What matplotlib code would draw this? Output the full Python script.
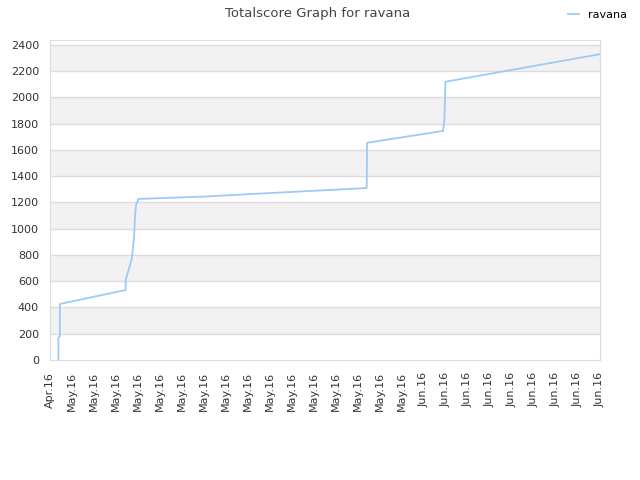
import numpy as np
import matplotlib
matplotlib.use("Agg")
import matplotlib.pyplot as plt

# days since the first tick (ticks every 2 days)
days = [0.76, 0.76, 0.9, 0.9, 6.88, 6.88, 7.45, 7.64, 7.73, 7.82, 8.03,
        14.0, 20.0, 28.79, 28.83, 35.73, 35.85, 35.95, 50.0]
scores = [0, 170, 180, 427, 533, 610, 777, 937, 1090, 1181, 1227,
          1245, 1272, 1310, 1655, 1745, 1830, 2120, 2330]

tick_days = list(range(0, 51, 2))
tick_labels = ["Apr.16"] + ["May.16"] * 16 + ["Jun.16"] * 9

line_color = "#9ecbf5"
text_color = "#444444"

fig = plt.figure(figsize=(6.4, 4.8), dpi=100)
ax = fig.add_axes([50 / 640, 120 / 480, 550 / 640, 320 / 480])

ymax = 2438
# alternating bands
band_edges = [0, 200, 400, 600, 800, 1000, 1200, 1400, 1600, 1800, 2000, 2200, 2400, ymax]
for i in range(len(band_edges) - 1):
    if i % 2 == 1:
        ax.axhspan(band_edges[i], band_edges[i + 1], color="#f2f2f2", lw=0, zorder=0)
for y in range(200, 2401, 200):
    ax.axhline(y, color="#dddddd", lw=1, zorder=1)

ax.plot(days, scores, color=line_color, lw=1.3, label="ravana", zorder=3)

ax.set_xlim(0, 50)
ax.set_ylim(0, ymax)
ax.set_yticks(range(0, 2401, 200))
ax.set_xticks(tick_days)
ax.set_xticklabels(tick_labels, rotation=90)
ax.tick_params(length=0, labelsize=8, colors="#333333")
ax.tick_params(axis="x", pad=8.5)
ax.tick_params(axis="y", pad=8)

for s in ax.spines.values():
    s.set_color("#dddddd")

fig.suptitle("Totalscore Graph for ravana", x=0.497, y=0.985, fontsize=9.5, color=text_color)
fig.legend(loc="upper right", bbox_to_anchor=(0.995, 1.0), frameon=False, fontsize=8,
           handlelength=1.0, handletextpad=0.8)

fig.savefig("out.png", dpi=100)
